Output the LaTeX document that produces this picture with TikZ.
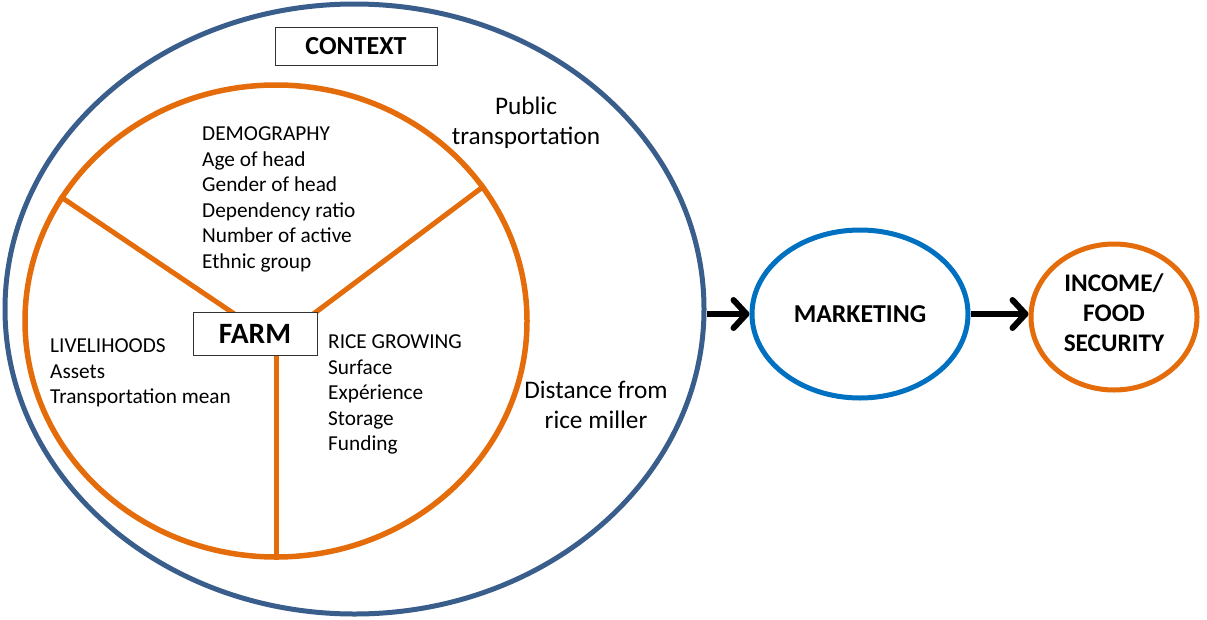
\documentclass[tikz,border=0pt]{standalone}
\usepackage{fontspec}
\setmainfont{Carlito}
\usetikzlibrary{shapes.geometric,arrows.meta,calc}
\definecolor{ctxblue}{RGB}{58,94,140}
\definecolor{farmorange}{RGB}{228,108,10}
\definecolor{mktblue}{RGB}{0,112,192}
\begin{document}
\begin{tikzpicture}[x=1pt,y=-1pt,
  ring/.style={ellipse,draw,line width=5pt,inner sep=0pt},
  spoke/.style={draw=farmorange,line width=5pt},
  labelbox/.style={draw=black!80,line width=1pt,fill=white,inner sep=0pt,font=\bfseries},
  factors/.style={anchor=north west,inner sep=0pt,align=left,font=\fontsize{21.3}{25.6}\selectfont},
  ctxlabel/.style={inner sep=0pt,align=center,font=\fontsize{25.3}{30}\selectfont},
  flow/.style={line width=6pt,-{Straight Barb[length=13pt,width=28pt,line cap=round,line join=round]}}]
\useasboundingbox (0,0) rectangle (1207,619);

% context and farm rings
\node[ring,draw=ctxblue,minimum width=699,minimum height=610] (outer) at (354.5,309) {};
\node[ring,draw=farmorange,line width=5.5pt,minimum width=502,minimum height=472] (farmring) at (276,321) {};

% the three spokes meet behind the FARM box
\coordinate (hub) at (276,342);
\draw[spoke] (hub) -- (farmring.150);
\draw[spoke] (hub) -- (farmring.33);
\draw[spoke] (hub) -- (farmring.south);

\node[labelbox,minimum width=124,minimum height=43,font=\bfseries\fontsize{29.5}{32}\selectfont] (farm) at (255,333.5) {FARM};
\node[labelbox,minimum width=162,minimum height=38,font=\bfseries\fontsize{26}{28}\selectfont] (context) at (356,46) {CONTEXT};

% farm factors
\node[factors] (demo) at (202,126.5) {DEMOGRAPHY\\Age of head\\Gender of head\\Dependency ratio\\Number of active\\Ethnic group};
\node[factors] (liveli) at (50,338.5) {LIVELIHOODS\\Assets\\Transportation mean};
\node[factors] (rice) at (328,334.5) {RICE GROWING\\Surface\\Expérience\\Storage\\Funding};

% context factors
\node[ctxlabel] (transport) at (526,122.5) {Public\\transportation};
\node[ctxlabel] (miller) at (596,405) {Distance from\\rice miller};

% outcomes
\node[ring,draw=mktblue,minimum width=216,minimum height=168,font=\bfseries\fontsize{25.8}{28}\selectfont] (marketing) at (860,314) {MARKETING};
\node[ring,draw=farmorange,minimum width=166,minimum height=146] (income) at (1114,317) {};
\node[inner sep=0pt,align=center,font=\bfseries\fontsize{25.3}{30}\selectfont] (incometext) at (1114,313) {INCOME/\\FOOD\\SECURITY};

\draw[flow] (outer.east |- marketing.west) -- (marketing.west);
\draw[flow] (marketing.east) -- (marketing.east -| income.west);
\end{tikzpicture}
\end{document}
